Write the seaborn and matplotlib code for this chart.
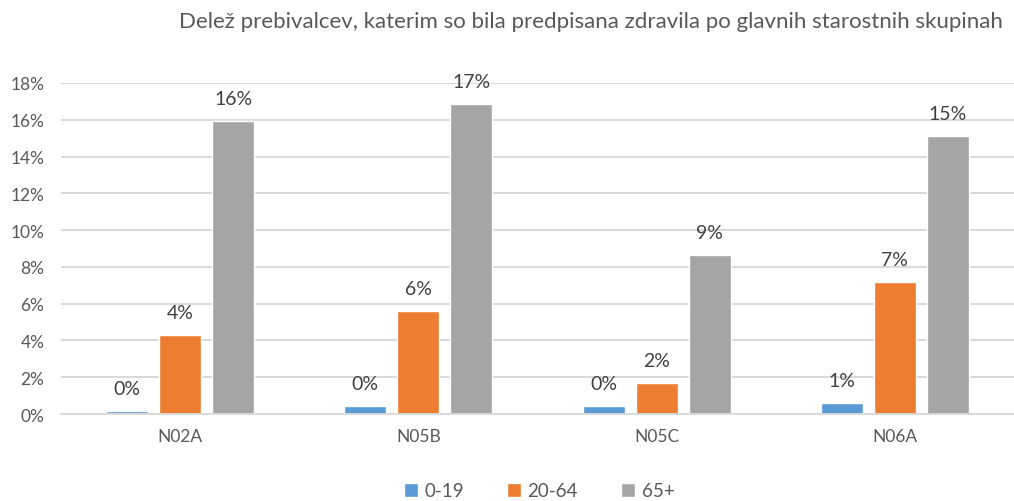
import numpy as np
import pandas as pd
import matplotlib
matplotlib.use("Agg")
import matplotlib.pyplot as plt
import seaborn as sns

# Share of residents with prescribed medicines, by main age group (fractions)
categories = ["N02A", "N05B", "N05C", "N06A"]
age_groups = ["0-19", "20-64", "65+"]
share_0_19 = [0.0015, 0.0043, 0.0042, 0.0060]
share_20_64 = [0.0430, 0.0560, 0.0169, 0.0719]
share_65_plus = [0.1593, 0.1686, 0.0865, 0.1510]
y_ticks = [0.0, 0.02, 0.04, 0.06, 0.08, 0.10, 0.12, 0.14, 0.16, 0.18]
title = "Delež prebivalcev, katerim so bila predpisana zdravila po glavnih starostnih skupinah"

colors = ["#5B9BD5", "#ED7D31", "#A5A5A5"]
text_col = "#595959"
label_col = "#404040"
grid_col = "#D9D9D9"

df = pd.DataFrame({
    "zdravilo": categories * 3,
    "skupina": [g for g in age_groups for _ in categories],
    "delez": share_0_19 + share_20_64 + share_65_plus,
})

sns.set_theme(style="white")
plt.rcParams["font.family"] = ["Lato", "DejaVu Sans"]

fig = plt.figure(figsize=(10.14, 5.02), dpi=100)
ax = fig.add_axes([61 / 1014, 1 - 415 / 502, (1014 - 61) / 1014, (415 - 84) / 502])

sns.barplot(data=df, x="zdravilo", y="delez", hue="skupina", hue_order=age_groups,
            order=categories, palette=colors, width=0.668, gap=0.21,
            saturation=1, ax=ax, legend=True, zorder=3)

ax.set_ylim(0, 0.18)
ax.set_xlim(-0.5, 3.5)
ax.set_yticks(y_ticks)
ax.set_yticklabels([f"{int(round(t * 100))}%" for t in y_ticks], color=text_col, fontsize=12.5)
ax.tick_params(axis="y", length=0, pad=12)
ax.tick_params(axis="x", length=0, pad=10, labelsize=12.5, labelcolor=text_col)
ax.set_xlabel("")
ax.set_ylabel("")
ax.grid(axis="y", color=grid_col, linewidth=1.4, zorder=0)
ax.set_axisbelow(True)
for s in ["top", "right", "left"]:
    ax.spines[s].set_visible(False)
ax.spines["bottom"].set_color(grid_col)
ax.spines["bottom"].set_linewidth(1.4)
ax.spines["bottom"].set_zorder(4)

# Value labels above each bar, rounded to whole percent
for cont in ax.containers:
    for bar in cont:
        h = bar.get_height()
        ax.annotate(f"{h * 100:.0f}%", (bar.get_x() + bar.get_width() / 2, h),
                    xytext=(0, 12.2), textcoords="offset points",
                    ha="center", va="baseline", fontsize=14, color=label_col,
                    annotation_clip=False)

leg = ax.legend(loc="center", bbox_to_anchor=(539 / 1014, 1 - 492 / 502),
                bbox_transform=fig.transFigure, ncol=3, frameon=False,
                fontsize=13.5, handlelength=0.75, handleheight=0.75,
                handletextpad=0.35, columnspacing=2.3)
for t in leg.get_texts():
    t.set_color(text_col)

fig.text(591 / 1014, 1 - 22 / 502, title, ha="center", va="center",
         fontsize=16, color=text_col)

fig.savefig("out.png", dpi=100)
